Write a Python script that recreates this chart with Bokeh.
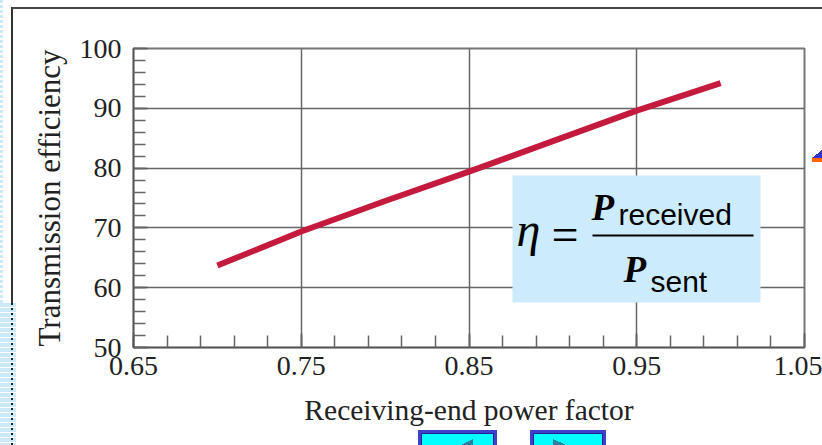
from bokeh.plotting import figure
from bokeh.models import (FixedTicker, PrintfTickFormatter, BoxAnnotation, Label,
                          Range1d, InlineStyleSheet)
from bokeh.embed import file_html
from bokeh.resources import INLINE
import numpy as np

# ---- data ----
power_factor = [0.70, 0.75, 0.80, 0.85, 0.90, 0.95, 1.00]
efficiency = [63.7, 69.4, 74.5, 79.4, 84.5, 89.6, 94.2]
x_ticks = [0.65, 0.75, 0.85, 0.95, 1.05]
y_ticks = [50, 60, 70, 80, 90, 100]
x_title = "Receiving-end power factor"
y_title = "Transmission efficiency"

SERIF = "Liberation Serif"
SANS = "Liberation Sans"

p = figure(width=822, height=445, output_backend="svg", toolbar_location=None,
           x_range=Range1d(0.65, 1.05), y_range=Range1d(50, 100),
           min_border_left=133, min_border_right=18, min_border_top=48,
           min_border_bottom=98)
p.background_fill_color = "white"
p.border_fill_color = "white"
p.outline_line_color = "#777777"
p.outline_line_width = 2

x_minor = [round(v, 2) for v in np.arange(0.65, 1.0501, 0.02)]
y_minor = list(range(50, 101, 2))
p.xaxis.ticker = FixedTicker(ticks=x_ticks, minor_ticks=x_minor)
p.yaxis.ticker = FixedTicker(ticks=y_ticks, minor_ticks=y_minor)
p.xaxis.formatter = PrintfTickFormatter(format="%.2f")
p.yaxis.formatter = PrintfTickFormatter(format="%d")

for ax in (p.xaxis, p.yaxis):
    ax.major_tick_in = 14
    ax.major_tick_out = 0
    ax.minor_tick_in = 12
    ax.minor_tick_out = 0
    ax.major_tick_line_color = "#555555"
    ax.minor_tick_line_color = "#666666"
    ax.major_tick_line_width = 1.5
    ax.minor_tick_line_width = 1.5
    ax.axis_line_color = "#555555"
    ax.axis_line_width = 1.5
    ax.major_label_text_font = SERIF
    ax.major_label_text_font_size = "28px"
    ax.major_label_text_color = "#222222"
    ax.axis_label_text_font = SERIF
    ax.axis_label_text_font_style = "normal"
    ax.axis_label_text_color = "#222222"

p.xaxis.axis_label = x_title
p.yaxis.axis_label = y_title
p.xaxis.axis_label_text_font_size = "29.5px"
p.yaxis.axis_label_text_font_size = "31px"
p.xaxis.major_label_standoff = 9
p.yaxis.major_label_standoff = 12
p.xaxis.axis_label_standoff = 16
p.yaxis.axis_label_standoff = 10

p.xgrid.ticker = FixedTicker(ticks=x_ticks)
p.ygrid.ticker = FixedTicker(ticks=y_ticks)
p.grid.grid_line_color = "#666666"
p.grid.grid_line_width = 1.5

p.line(power_factor, efficiency, line_color="#C41A3E", line_width=6)

# ---- formula box (screen units relative to frame: origin bottom-left) ----
p.add_layout(BoxAnnotation(left=379, right=627, bottom=45, top=172,
                           left_units="screen", right_units="screen",
                           bottom_units="screen", top_units="screen",
                           fill_color="#CCEBFD", fill_alpha=1, line_color=None))
p.add_layout(BoxAnnotation(left=459, right=620, bottom=111, top=113,
                           left_units="screen", right_units="screen",
                           bottom_units="screen", top_units="screen",
                           fill_color="black", fill_alpha=1, line_color=None))


def lab(txt, x, y, font, size, style="normal"):
    p.add_layout(Label(x=x, y=y, x_units="screen", y_units="screen", text=txt,
                       text_font=font, text_font_size=size, text_font_style=style,
                       text_color="black", text_baseline="alphabetic",
                       text_align="left"))


lab("\u03b7", 383, 118, SERIF, "48px", "italic")
lab("=", 418, 113, SERIF, "48px")
lab("P", 458, 140, SERIF, "37px", "bold italic")
lab("received", 485, 133, SANS, "30px")
lab("P", 490, 78, SERIF, "37px", "bold italic")
lab("sent", 517, 66, SANS, "30px")

# ---- slide chrome around the chart (drawn as a CSS overlay) ----
def layer(img, x, y, w, h):
    return f"{img} {x}px {y}px / {w}px {h}px no-repeat"

solid = lambda c: f"linear-gradient({c},{c})"
layers = [
    layer(solid("#444444"), 12, 7, 810, 2),                       # top rule
    layer(solid("#333333"), 11, 7, 2, 296),                       # left rule
    layer("repeating-linear-gradient(to bottom,#222 0 2px,transparent 2px 5px)",
          11, 303, 2, 142),                                       # dotted rule
    layer("repeating-linear-gradient(to bottom,#CCE9FA 0 4px,#ffffff 4px 5px)",
          0, 303, 16, 142),                                       # blue strip
    layer("repeating-linear-gradient(to bottom,#CCE9FA 0 3px,#ffffff 3px 5px)",
          0, 0, 3, 303),
    # button 1
    layer("linear-gradient(to bottom right,transparent 50%,#2F7F9F 50%)", 461, 439, 12, 6),
    layer(solid("#00FFFF"), 422, 434, 71, 11),
    layer(solid("#222299"), 421, 433, 73, 12),
    layer(solid("#4040CC"), 418, 430, 79, 15),
    # button 2
    layer("linear-gradient(to bottom left,transparent 50%,#2F7F9F 50%)", 553, 439, 13, 6),
    layer(solid("#00FFFF"), 534, 434, 68, 11),
    layer(solid("#222299"), 533, 433, 70, 12),
    layer(solid("#4040CC"), 530, 430, 76, 15),
    # arrow tip at right edge
    layer("linear-gradient(to bottom right,transparent 50%,#3333CC 50%)", 812, 150, 10, 8),
    layer(solid("#FF6600"), 812, 157, 10, 5),
]
css = (":host { position: relative; }\n"
       ":host::after { content: ''; position: absolute; left: 0; top: 0; "
       "width: 822px; height: 445px; pointer-events: none; z-index: 50; "
       "background: " + ",\n".join(layers) + "; }")
p.stylesheets = [InlineStyleSheet(css=css)]

open("out.html", "w").write(file_html(p, INLINE))
